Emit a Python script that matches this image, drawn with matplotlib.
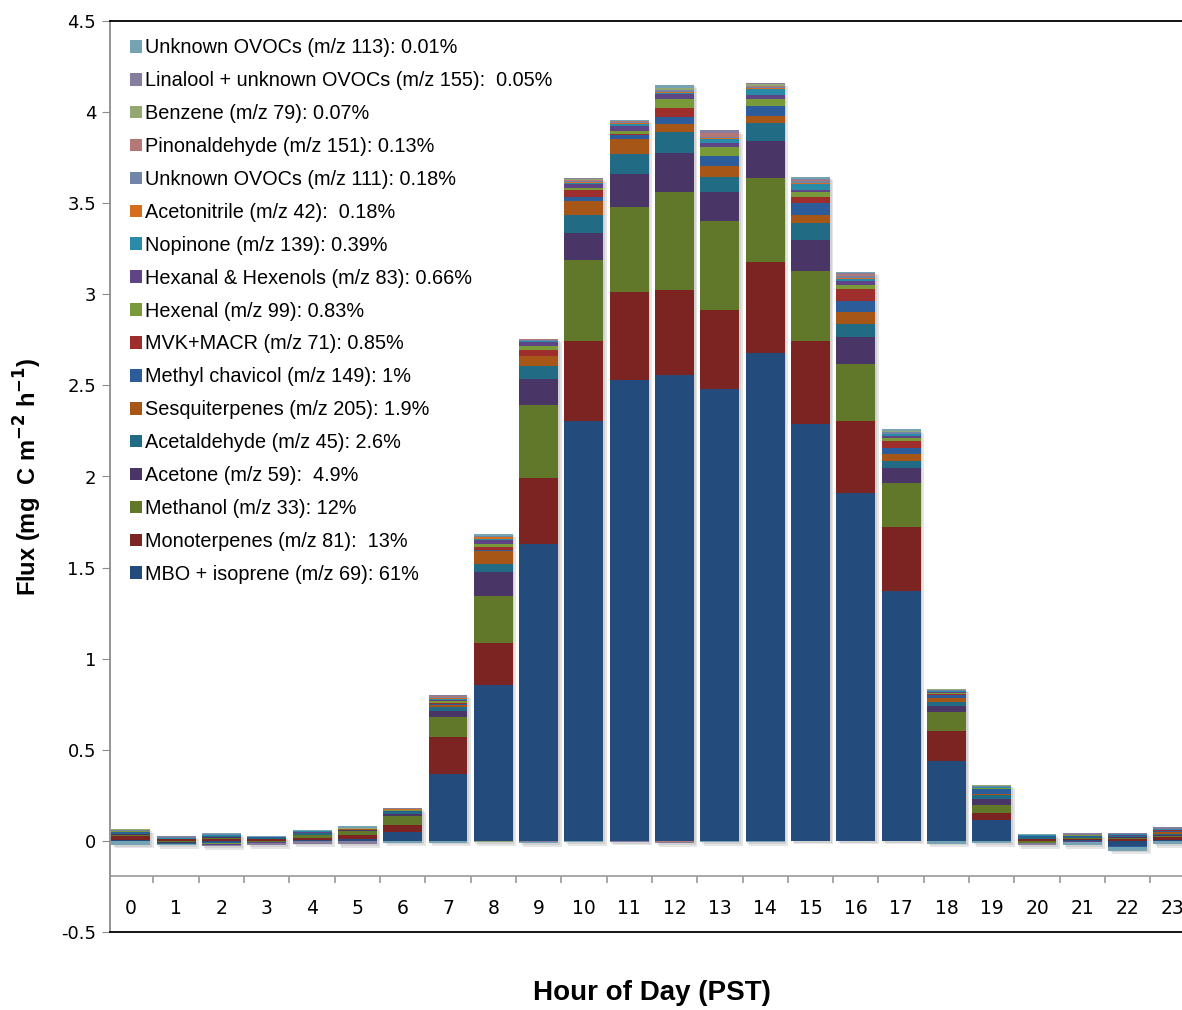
"""
Суточный ход потоков ЛОС по часам (стековые столбцы)
"""
import numpy as np
import matplotlib
matplotlib.use('Agg')
import matplotlib.pyplot as plt
from matplotlib import patheffects

hours = list(range(24))

# потоки, мг C м-2 ч-1, по часам 0..23
mbo_isoprene = [0.004, 0.002, -0.006, 0.002, 0.004, 0.010, 0.048, 0.369, 0.856, 1.63, 2.305, 2.53,
                2.557, 2.481, 2.678, 2.289, 1.91, 1.372, 0.439, 0.115, 0.0, 0.004, -0.03, 0.006]
monoterpenes = [0.022, 0.006, 0.012, 0.007, 0.012, 0.025, 0.037, 0.202, 0.231, 0.36, 0.439, 0.483,
                0.467, 0.433, 0.50, 0.455, 0.395, 0.351, 0.165, 0.039, 0.010, 0.006, 0.008, 0.015]
methanol = [0.006, -0.004, 0.005, -0.005, 0.014, 0.018, 0.052, 0.109, 0.258, 0.403, 0.446, 0.467,
            0.538, 0.489, 0.461, 0.384, 0.313, 0.242, 0.104, 0.044, -0.010, 0.005, 0.010, 0.004]
acetone = [0.004, -0.005, 0.004, 0.003, 0.004, 0.006, 0.011, 0.033, 0.131, 0.143, 0.147, 0.181,
           0.214, 0.159, 0.203, 0.171, 0.148, 0.082, 0.033, 0.033, 0.003, 0.003, 0.005, 0.008]
acetaldehyde = [0.008, -0.006, 0.004, 0.004, 0.008, 0.003, 0.008, 0.022, 0.044, 0.071, 0.099, 0.110,
                0.115, 0.082, 0.098, 0.093, 0.073, 0.038, 0.022, 0.021, 0.006, 0.005, 0.003, 0.006]
sesquiterpenes = [0.002, 0.002, 0.002, 0.002, 0.0, 0.002, 0.003, 0.011, 0.072, 0.055, 0.077, 0.082,
                  0.044, 0.060, 0.039, 0.044, 0.064, 0.039, 0.022, 0.006, 0.002, 0.0, 0.0, 0.008]
methyl_chavicol = [0.002, 0.003, -0.006, 0.002, 0.002, 0.0, 0.004, 0.007, 0.003, 0.0, 0.022, 0.022,
                   0.039, 0.056, 0.055, 0.066, 0.061, 0.035, 0.016, 0.027, 0.004, 0.004, -0.006, 0.005]
mvk_macr = [0.002, 0.0, 0.002, 0.0, 0.0, 0.0, 0.003, 0.005, 0.019, 0.033, 0.040, 0.005,
            0.049, 0.0, 0.0, 0.033, 0.066, 0.036, 0.007, 0.0, 0.002, 0.0, 0.003, 0.006]
hexenal = [0.003, 0.0, -0.004, 0.0, 0.002, 0.002, 0.002, 0.010, 0.016, 0.022, 0.011, 0.017,
           0.049, 0.049, 0.038, 0.027, 0.022, 0.019, 0.005, 0.004, 0.0, 0.003, 0.0, 0.002]
hexanal_hexenols = [0.002, 0.0, -0.005, -0.006, 0.002, 0.002, 0.002, 0.007, 0.022, 0.020, 0.022, 0.029,
                    0.028, 0.022, 0.023, 0.009, 0.021, 0.010, 0.004, 0.003, 0.0, -0.008, 0.003, 0.002]
nopinone = [0.001, 0.001, 0.002, 0.0, 0.006, 0.0, 0.002, 0.006, 0.007, 0.004, 0.005, 0.009,
            0.006, 0.022, 0.032, 0.035, 0.012, 0.008, 0.005, 0.004, 0.003, 0.0, 0.004, 0.002]
acetonitrile = [0.001, 0.003, 0.003, 0.0, 0.0, 0.0, 0.001, 0.004, 0.007, 0.003, 0.005, 0.005,
                0.004, 0.005, 0.007, 0.004, 0.006, 0.004, 0.002, 0.002, 0.0, 0.0, 0.0, 0.003]
unknown_111 = [0.001, 0.002, 0.002, 0.0, 0.0, 0.0, 0.002, 0.005, 0.005, 0.004, 0.006, 0.005,
               0.010, 0.008, 0.006, 0.010, 0.012, 0.006, 0.003, 0.003, 0.0, 0.0, 0.0, 0.0]
pinonaldehyde = [0.001, 0.0, 0.0, 0.0, 0.0, 0.0, 0.001, 0.003, 0.003, 0.005, 0.005, 0.004,
                 -0.005, 0.018, 0.004, 0.006, 0.006, 0.004, 0.002, 0.002, 0.0, 0.0, 0.0, 0.0]
benzene = [0.004, 0.0, 0.0, 0.0, 0.0, 0.004, 0.001, 0.002, -0.008, 0.002, 0.003, 0.003,
           0.010, 0.004, 0.008, 0.004, 0.005, 0.003, 0.003, 0.004, 0.0, 0.003, 0.0, 0.0]
linalool = [0.0, 0.008, -0.008, -0.012, -0.015, -0.018, 0.003, 0.006, 0.002, -0.004, 0.004, -0.006,
            -0.008, 0.012, 0.008, 0.004, 0.004, 0.003, 0.002, 0.0, -0.015, 0.008, 0.009, 0.008]
unknown_113 = [-0.022, -0.008, 0.006, 0.006, 0.006, 0.008, -0.010, -0.010, 0.010, -0.008, -0.008, 0.005,
               0.020, -0.008, -0.008, 0.010, 0.005, 0.006, -0.015, -0.012, 0.006, -0.015, -0.018, -0.018]

series = [mbo_isoprene, monoterpenes, methanol, acetone, acetaldehyde, sesquiterpenes,
          methyl_chavicol, mvk_macr, hexenal, hexanal_hexenols, nopinone, acetonitrile,
          unknown_111, pinonaldehyde, benzene, linalool, unknown_113]

labels = [
    'MBO + isoprene (m/z 69): 61%',
    'Monoterpenes (m/z 81):  13%',
    'Methanol (m/z 33): 12%',
    'Acetone (m/z 59):  4.9%',
    'Acetaldehyde (m/z 45): 2.6%',
    'Sesquiterpenes (m/z 205): 1.9%',
    'Methyl chavicol (m/z 149): 1%',
    'MVK+MACR (m/z 71): 0.85%',
    'Hexenal (m/z 99): 0.83%',
    'Hexanal & Hexenols (m/z 83): 0.66%',
    'Nopinone (m/z 139): 0.39%',
    'Acetonitrile (m/z 42):  0.18%',
    'Unknown OVOCs (m/z 111): 0.18%',
    'Pinonaldehyde (m/z 151): 0.13%',
    'Benzene (m/z 79): 0.07%',
    'Linalool + unknown OVOCs (m/z 155):  0.05%',
    'Unknown OVOCs (m/z 113): 0.01%',
]

colors = ['#234B7C', '#7B2421', '#61782B', '#4A3567', '#216C84', '#A65717',
          '#2C5D9A', '#9E2E2C', '#789A38', '#5F4486', '#2A8BA8', '#D56D1E',
          '#7285A8', '#B37775', '#93A873', '#877E9E', '#76A3B3']

fig = plt.figure(figsize=(11.82, 10.10), dpi=100)
ax = fig.add_axes([110 / 1182, 78 / 1010, 1072 / 1182, 911 / 1010])

x = np.array(hours)
width = 0.86
data = np.array(series, dtype=float)
pos_total = np.clip(data, 0, None).sum(axis=0)
neg_total = np.clip(data, None, 0).sum(axis=0)

# мягкая тень под каждым столбцом целиком
shadow = [patheffects.SimplePatchShadow(offset=(2.5, -2.5), shadow_rgbFace='0.55', alpha=0.22),
          patheffects.SimplePatchShadow(offset=(1.2, -1.2), shadow_rgbFace='0.55', alpha=0.22)]
ax.bar(x, pos_total - neg_total, width, bottom=neg_total, color='none',
       path_effects=shadow, zorder=1)

pos_base = np.zeros(len(hours))
neg_base = np.zeros(len(hours))
handles = []
for vals, lab, col in zip(data, labels, colors):
    bottom = np.where(vals >= 0, pos_base, neg_base)
    b = ax.bar(x, vals, width, bottom=bottom, color=col, linewidth=0, label=lab, zorder=2)
    handles.append(b)
    pos_base += np.clip(vals, 0, None)
    neg_base += np.clip(vals, None, 0)

ax.set_xlim(-0.46, 23.2)
ax.set_ylim(-0.5, 4.5)

ax.set_yticks(np.arange(-0.5, 4.51, 0.5))
ax.yaxis.set_major_formatter(plt.FuncFormatter(lambda v, p: '%g' % v))
ax.tick_params(axis='y', direction='out', length=6, color='#8C8C8C', labelsize=13, pad=4)
ax.set_xticks([])

for s in ('top', 'bottom'):
    ax.spines[s].set_color('black')
    ax.spines[s].set_linewidth(1.3)
ax.spines['left'].set_color('#8C8C8C')
ax.spines['left'].set_linewidth(1.3)
ax.spines['right'].set_visible(False)

# ось категорий ниже нуля
cat_y = -0.19
ax.axhline(cat_y, color='#9A9A9A', lw=1.2, zorder=0)
ax.vlines(np.arange(-0.5, 24, 1.0), cat_y - 0.04, cat_y, color='#9A9A9A', lw=1.2)
for h in hours:
    ax.text(h, -0.37, str(h), ha='center', va='center', fontsize=13.5)

ax.text(-0.077, 0.5, 'Flux (mg  C m$^{\\mathbf{-2}}$ h$^{\\mathbf{-1}}$)', transform=ax.transAxes,
        rotation=90, ha='center', va='center', fontsize=17, fontweight='bold',
        family=['Liberation Sans Narrow', 'Liberation Sans'])
ax.text(0.506, -0.067, 'Hour of Day (PST)', transform=ax.transAxes, ha='center', va='center',
        fontsize=20, fontweight='bold', family=['Liberation Sans Narrow', 'Liberation Sans'])

leg = ax.legend(handles[::-1], labels[::-1], loc='upper left', bbox_to_anchor=(0.0185, 0.981),
                frameon=False, prop={'family': 'Liberation Sans', 'size': 14.3},
                handlelength=0.6, handleheight=0.6, handletextpad=0.15,
                labelspacing=0.70, borderpad=0, borderaxespad=0)

fig.savefig('out.png', dpi=100)
